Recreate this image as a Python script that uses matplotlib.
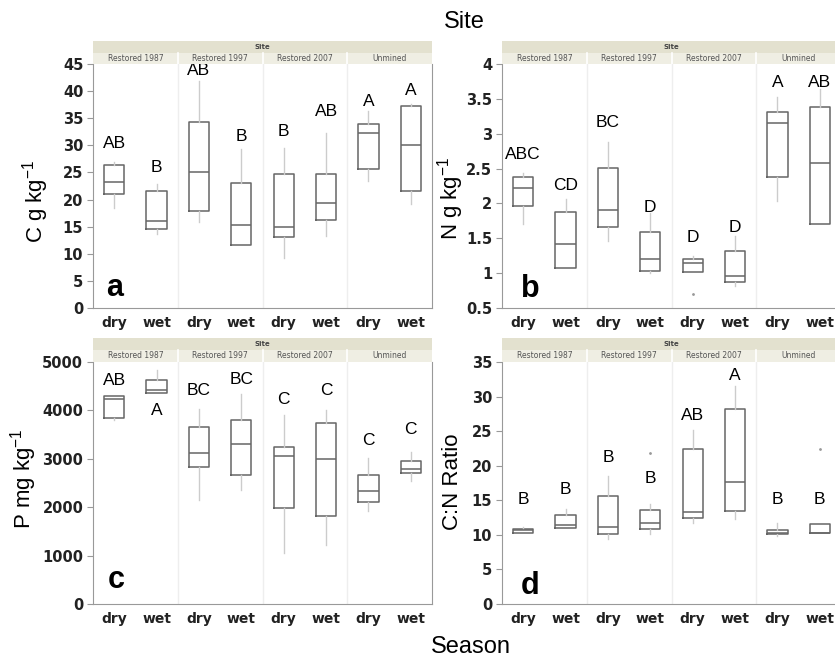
import numpy as np
import matplotlib.pyplot as plt
from matplotlib.patches import Rectangle

sites = ["Restored 1987", "Restored 1997", "Restored 2007", "Unmined"]
seasons = ["dry", "wet"] * 4

# panel a: C g kg-1
c_lo = [18.5, 13.6, 15.8, 11.7, 9.2, 13.3, 23.4, 19.1]
c_q1 = [21.0, 14.6, 17.9, 11.7, 13.1, 16.3, 25.6, 21.5]
c_med = [23.2, 16.0, 25.0, 15.3, 15.0, 19.3, 32.2, 30.0]
c_q3 = [26.3, 21.6, 34.3, 23.1, 24.8, 24.8, 34.0, 37.3]
c_hi = [27.0, 22.8, 41.9, 29.3, 29.6, 32.2, 36.4, 37.6]
c_out = [[], [], [], [], [], [], [], []]
c_letters = ["AB", "B", "AB", "B", "B", "AB", "A", "A"]
c_letter_y = [30.4, 26.0, 43.8, 31.6, 32.5, 36.2, 38.0, 40.1]

# panel b: N g kg-1
n_lo = [1.70, 1.075, 1.46, 1.0, 1.018, 0.81, 2.03, 1.699]
n_q1 = [1.962, 1.075, 1.66, 1.037, 1.018, 0.874, 2.384, 1.699]
n_med = [2.226, 1.411, 1.91, 1.205, 1.147, 0.955, 3.151, 2.586]
n_q3 = [2.384, 1.881, 2.514, 1.588, 1.205, 1.315, 3.305, 3.386]
n_hi = [2.44, 2.06, 2.88, 1.866, 1.24, 1.53, 3.52, 3.64]
n_out = [[], [], [], [], [0.706], [], [], []]
n_letters = ["ABC", "CD", "BC", "D", "D", "D", "A", "AB"]
n_letter_y = [2.705, 2.25, 3.16, 1.94, 1.51, 1.65, 3.736, 3.736]

# panel c: P mg kg-1
p_lo = [3800, 4361, 2146, 2352, 1045, 1217, 1919, 2550]
p_q1 = [3852, 4361, 2834, 2662, 1974, 1816, 2098, 2700]
p_med = [4244, 4416, 3129, 3301, 3054, 2992, 2325, 2780]
p_q3 = [4299, 4636, 3659, 3810, 3246, 3748, 2655, 2950]
p_hi = [4300, 4842, 4037, 4333, 3914, 4003, 3019, 3150]
p_out = [[], [], [], [], [], [], [], []]
p_letters = ["AB", "A", "BC", "BC", "C", "C", "C", "C"]
p_letter_y = [4622, 4003, 4416, 4636, 4223, 4416, 3370, 3610]

# panel d: C:N ratio
r_lo = [10.2, 11.06, 9.4, 10.1, 11.7, 12.3, 9.9, 10.24]
r_q1 = [10.34, 11.06, 10.1, 10.91, 12.5, 13.5, 10.1, 10.24]
r_med = [10.67, 11.39, 11.2, 11.68, 13.3, 17.6, 10.34, 10.34]
r_q3 = [10.91, 12.88, 15.62, 13.6, 22.45, 28.2, 10.67, 11.6]
r_hi = [11.2, 13.7, 18.5, 14.5, 25.2, 31.5, 11.7, 11.6]
r_out = [[], [], [], [21.9], [], [], [], [22.4]]
r_letters = ["B", "B", "B", "B", "AB", "A", "B", "B"]
r_letter_y = [15.1, 16.6, 21.2, 18.1, 27.2, 33.0, 15.1, 15.1]

W, H = 835, 657
fig = plt.figure(figsize=(8.35, 6.57), dpi=100)


def px_axes(left, right, top, bottom):
    return [left / W, 1 - bottom / H, (right - left) / W, (bottom - top) / H]


def header(left, right, top, bottom):
    hax = fig.add_axes(px_axes(left, right, top, bottom))
    hax.set_xlim(0, 8)
    hax.set_ylim(0, 2)
    hax.axis("off")
    hax.add_patch(Rectangle((0, 1), 8, 1, facecolor="#e3e1cf", edgecolor="none"))
    hax.add_patch(Rectangle((0, 0), 8, 1, facecolor="#efeee3", edgecolor="none"))
    hax.text(4, 1.5, "Site", ha="center", va="center", fontsize=5, weight="bold", color="#444")
    for i, s in enumerate(sites):
        hax.text(2 * i + 1, 0.5, s, ha="center", va="center", fontsize=5.5, color="#555")
        if i > 0:
            hax.plot([2 * i, 2 * i], [0, 1], color="white", lw=1.2)


def panel(pos, hpos, lo, q1, med, q3, hi, out, letters, letter_y, ylim, yticks, tag, tagpos):
    ax = fig.add_axes(px_axes(*pos))
    stats = []
    for i in range(8):
        stats.append(dict(whislo=lo[i], q1=q1[i], med=med[i], q3=q3[i], whishi=hi[i], fliers=out[i]))
    positions = np.arange(8) + 0.5
    for x in [2, 4, 6]:
        ax.axvline(x, color="#eeeeee", lw=1, zorder=0)
    ax.bxp(stats, positions=positions, widths=0.48, showcaps=False,
           boxprops=dict(color="#666666", lw=1.1),
           medianprops=dict(color="#666666", lw=1.1),
           whiskerprops=dict(color="#cccccc", lw=1),
           flierprops=dict(marker=".", markersize=2, markerfacecolor="#999999",
                           markeredgecolor="#999999"))
    for x, lab, y in zip(positions, letters, letter_y):
        ax.text(x, y, lab, ha="center", va="center", fontsize=12.5, family="Liberation Sans")
    ax.set_xlim(0, 8)
    ax.set_ylim(*ylim)
    ax.set_yticks(yticks)
    ax.set_yticklabels(["%g" % t for t in yticks], fontsize=10.5, weight="bold", color="#222222")
    ax.set_xticks(positions)
    ax.set_xticklabels(seasons, fontsize=10, weight="bold", color="#222222")
    ax.tick_params(axis="x", length=0, pad=6)
    ax.tick_params(axis="y", length=4, color="#999999", pad=3)
    ax.spines["top"].set_visible(False)
    for s in ["left", "bottom", "right"]:
        ax.spines[s].set_color("#999999")
    ax.text(tagpos[0], tagpos[1], tag, transform=ax.transAxes, fontsize=22, weight="bold",
            family="Liberation Sans", va="baseline")
    header(*hpos)
    return ax


panel((93, 432, 64, 308), (93, 432, 41, 64), c_lo, c_q1, c_med, c_q3, c_hi, c_out,
      c_letters, c_letter_y, (0, 45), np.arange(0, 46, 5), "a", (0.04, 0.05))
panel((502, 841, 64, 308), (502, 841, 41, 64), n_lo, n_q1, n_med, n_q3, n_hi, n_out,
      n_letters, n_letter_y, (0.5, 4), np.arange(0.5, 4.01, 0.5), "b", (0.055, 0.045))
panel((93, 432, 362, 604), (93, 432, 338, 362), p_lo, p_q1, p_med, p_q3, p_hi, p_out,
      p_letters, p_letter_y, (0, 5000), np.arange(0, 5001, 1000), "c", (0.044, 0.066))
panel((502, 841, 362, 604), (502, 841, 338, 362), r_lo, r_q1, r_med, r_q3, r_hi, r_out,
      r_letters, r_letter_y, (0, 35), np.arange(0, 36, 5), "d", (0.056, 0.04))

ylabels = ["C g kg$\\mathregular{^{-1}}$", "N g kg$\\mathregular{^{-1}}$",
           "P mg kg$\\mathregular{^{-1}}$", "C:N Ratio"]
ylabel_pos = [(36, 201), (451, 198), (24, 479), (452, 482)]
for lab, (x, y) in zip(ylabels, ylabel_pos):
    fig.text(x / W, 1 - y / H, lab, rotation=90, ha="center", va="center",
             fontsize=16, family="Liberation Sans")

fig.text(464 / W, 1 - 22 / H, "Site", ha="center", va="center", fontsize=17, family="Liberation Sans")
fig.text(471 / W, 1 - 647 / H, "Season", ha="center", va="center", fontsize=17, family="Liberation Sans")

fig.savefig("out.png", dpi=100)
